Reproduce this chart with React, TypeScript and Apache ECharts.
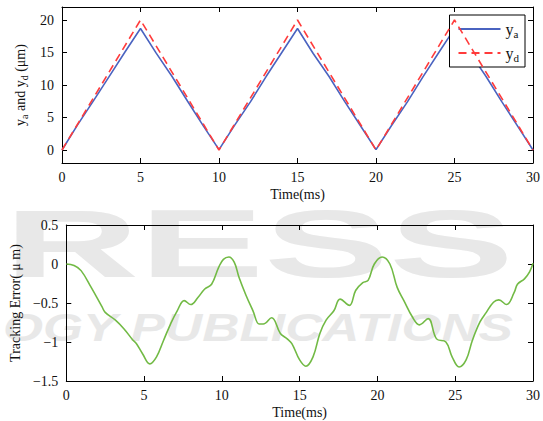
import React, { useEffect, useRef } from "react";
import * as echarts from "echarts";

// ---------- data ----------
const timeTicks = [0, 5, 10, 15, 20, 25, 30];

// desired trajectory y_d (triangle)
const ydTime = [0, 5, 10, 15, 20, 25, 30];
const ydValues = [0, 20, 0, 20, 0, 20, 0];

// actual trajectory y_a
const yaTime = [0, 1, 2, 3, 4, 5, 6, 7, 8, 9, 10, 11, 12, 13, 14, 15, 16, 17, 18, 19, 20, 21, 22, 23, 24, 25, 26, 27, 28, 29, 30];
const yaValues = [
  0, 3.9, 7.55, 11.28, 15.03, 18.7, 14.9, 11.35, 7.5, 3.72,
  0.05, 3.83, 7.4, 11.3, 15.0, 18.7, 14.85, 11.35, 7.48, 3.76,
  0.05, 3.8, 7.4, 11.28, 15.0, 18.68, 14.9, 11.35, 7.48, 3.75, 0,
];

// tracking error
const errTime = [
  0, 0.5, 0.95, 1.6, 2.3, 2.5, 3.16, 3.7, 4.26, 4.5, 4.9, 5.37, 5.8, 6.25, 6.7, 7.13, 7.58, 8.0, 8.46, 8.9,
  9.34, 9.8, 10.1, 10.45, 10.8, 11.1, 11.55, 12.0, 12.4, 12.66, 13.2, 13.76, 14.2, 14.5, 15.0, 15.4, 15.86,
  16.3, 16.7, 17.2, 17.6, 18.2, 18.6, 19.06, 19.4, 19.8, 20.3, 20.8, 21.27, 21.7, 22.25, 22.7, 23.26, 23.8,
  24.4, 24.8, 25.25, 25.7, 26.1, 26.6, 27.0, 27.46, 27.8, 28.3, 28.8, 29.0, 29.45, 29.78, 30,
];
const errValues = [
  0, -0.02, -0.085, -0.3, -0.55, -0.62, -0.72, -0.83, -0.97, -1.02, -1.15, -1.28, -1.19, -0.98, -0.77, -0.6,
  -0.47, -0.52, -0.43, -0.32, -0.26, -0.04, 0.06, 0.09, 0.02, -0.17, -0.4, -0.6, -0.77, -0.77, -0.69, -0.89,
  -0.96, -1.02, -1.23, -1.31, -1.19, -0.89, -0.72, -0.6, -0.45, -0.53, -0.34, -0.24, -0.21, 0, 0.09, 0,
  -0.3, -0.47, -0.68, -0.78, -0.7, -0.96, -1.0, -1.19, -1.32, -1.23, -0.98, -0.74, -0.62, -0.49, -0.46,
  -0.52, -0.36, -0.26, -0.19, -0.1, 0.01,
];

// background watermark words visible in the picture
const watermarkTop = "RESS";
const watermarkBottom = "OGY PUBLICATIONS";

// ---------- styling ----------
const SERIF = "'Liberation Serif', 'Times New Roman', serif";
const BLUE = "#4a63c0";
const RED = "#ff3b3b";
const GREEN = "#72ba45";
const WM = "#e8e8e8";

const minus = (v: number) => String(v).replace("-", "\u2212");

export default function App() {
  const ref = useRef<HTMLDivElement>(null);

  useEffect(() => {
    if (!ref.current) return;
    const chart = echarts.init(ref.current, undefined, { renderer: "svg" });

    const axisLine = { show: true, onZero: false, lineStyle: { color: "#000", width: 1 } };
    const tick = { show: true, inside: true, length: 5, lineStyle: { color: "#000" } };
    const label = { color: "#111", fontFamily: SERIF, fontSize: 14 };

    const nameRich = {
      n: { fontFamily: SERIF, fontSize: 14, color: "#111" },
      s: { fontFamily: SERIF, fontSize: 10, color: "#111", padding: [8, 0, 0, 0] },
    };

    const xMain = (grid: number) => ({
      type: "value",
      gridIndex: grid,
      min: 0,
      max: 30,
      interval: 5,
      position: "bottom",
      axisLine,
      axisTick: tick,
      splitLine: { show: false },
      axisLabel: { ...label, margin: 7, formatter: (v: number) => (timeTicks.includes(v) ? String(v) : "") },
      name: "Time(ms)",
      nameLocation: "middle",
      nameGap: 24,
      nameTextStyle: { fontFamily: SERIF, fontSize: 14, color: "#111" },
    });
    const xTop = (grid: number) => ({
      type: "value",
      gridIndex: grid,
      min: 0,
      max: 30,
      interval: 5,
      position: "top",
      axisLine,
      axisTick: tick,
      axisLabel: { show: false },
      splitLine: { show: false },
    });

    const option: any = {
      animation: false,
      backgroundColor: "#fff",
      graphic: [
        {
          type: "text",
          z: -10,
          silent: true,
          x: 4,
          y: 196,
          scaleX: 1.95,
          style: { text: watermarkTop, fill: WM, font: "bold 96px 'Liberation Sans', Arial, sans-serif" },
        },
        {
          type: "text",
          z: -10,
          silent: true,
          x: 3,
          y: 308,
          scaleX: 1.32,
          style: { text: watermarkBottom, fill: WM, font: "italic bold 39px 'Liberation Sans', Arial, sans-serif" },
        },
      ],
      grid: [
        { left: 62, right: 10, top: 7, height: 156 },
        { left: 62, right: 10, top: 225, height: 156 },
      ],
      legend: {
        show: true,
        orient: "vertical",
        right: 18,
        top: 15,
        data: ["ya", "yd"],
        backgroundColor: "#fff",
        borderColor: "#000",
        borderWidth: 1,
        padding: [6, 6, 4, 8],
        itemGap: 6,
        itemWidth: 42,
        itemHeight: 14,
        itemStyle: { opacity: 0 },
        formatter: (name: string) => `{m|y}{s|${name.slice(1)}}`,
        textStyle: {
          rich: {
            m: { fontFamily: SERIF, fontSize: 16, color: "#111" },
            s: { fontFamily: SERIF, fontSize: 11, color: "#111", padding: [9, 0, 0, 0] },
          },
        },
      },
      xAxis: [xMain(0), xTop(0), xMain(1), xTop(1)],
      yAxis: [
        {
          type: "value",
          gridIndex: 0,
          min: -2,
          max: 22,
          axisLine,
          axisTick: tick,
          splitLine: { show: false },
          axisLabel: { ...label, margin: 8, showMinLabel: false, showMaxLabel: false },
          name: "{n|y}{s|a}{n| and y}{s|d}{n| (\u03bcm)}",
          nameLocation: "middle",
          nameGap: 33,
          nameTextStyle: { rich: nameRich },
        },
        {
          type: "value",
          gridIndex: 0,
          min: -2,
          max: 22,
          position: "right",
          axisLine,
          axisTick: tick,
          axisLabel: { show: false },
          splitLine: { show: false },
        },
        {
          type: "value",
          gridIndex: 1,
          min: -1.5,
          max: 0.5,
          interval: 0.5,
          axisLine,
          axisTick: tick,
          splitLine: { show: false },
          axisLabel: { ...label, margin: 8, formatter: (v: number) => minus(v) },
          name: "Tracking Error( \u03bc m)",
          nameLocation: "middle",
          nameGap: 33,
          nameTextStyle: { fontFamily: SERIF, fontSize: 14, color: "#111" },
        },
        {
          type: "value",
          gridIndex: 1,
          min: -1.5,
          max: 0.5,
          interval: 0.5,
          position: "right",
          axisLine,
          axisTick: tick,
          axisLabel: { show: false },
          splitLine: { show: false },
        },
      ],
      series: [
        {
          name: "ya",
          type: "line",
          xAxisIndex: 0,
          yAxisIndex: 0,
          data: yaTime.map((t, i) => [t, yaValues[i]]),
          symbol: "none",
          lineStyle: { color: BLUE, width: 1.6 },
          itemStyle: { color: BLUE },
          z: 3,
        },
        {
          name: "yd",
          type: "line",
          xAxisIndex: 0,
          yAxisIndex: 0,
          data: ydTime.map((t, i) => [t, ydValues[i]]),
          symbol: "none",
          lineStyle: { color: RED, width: 1.6, type: [8, 5] },
          itemStyle: { color: RED },
          z: 4,
        },
        {
          name: "err",
          type: "line",
          xAxisIndex: 2,
          yAxisIndex: 2,
          data: errTime.map((t, i) => [t, errValues[i]]),
          symbol: "none",
          smooth: 0.4,
          lineStyle: { color: GREEN, width: 1.6 },
          itemStyle: { color: GREEN },
        },
      ],
    };

    chart.setOption(option);
    return () => chart.dispose();
  }, []);

  return <div ref={ref} style={{ width: 543, height: 421, position: "absolute", left: 0, top: 0 }} />;
}
